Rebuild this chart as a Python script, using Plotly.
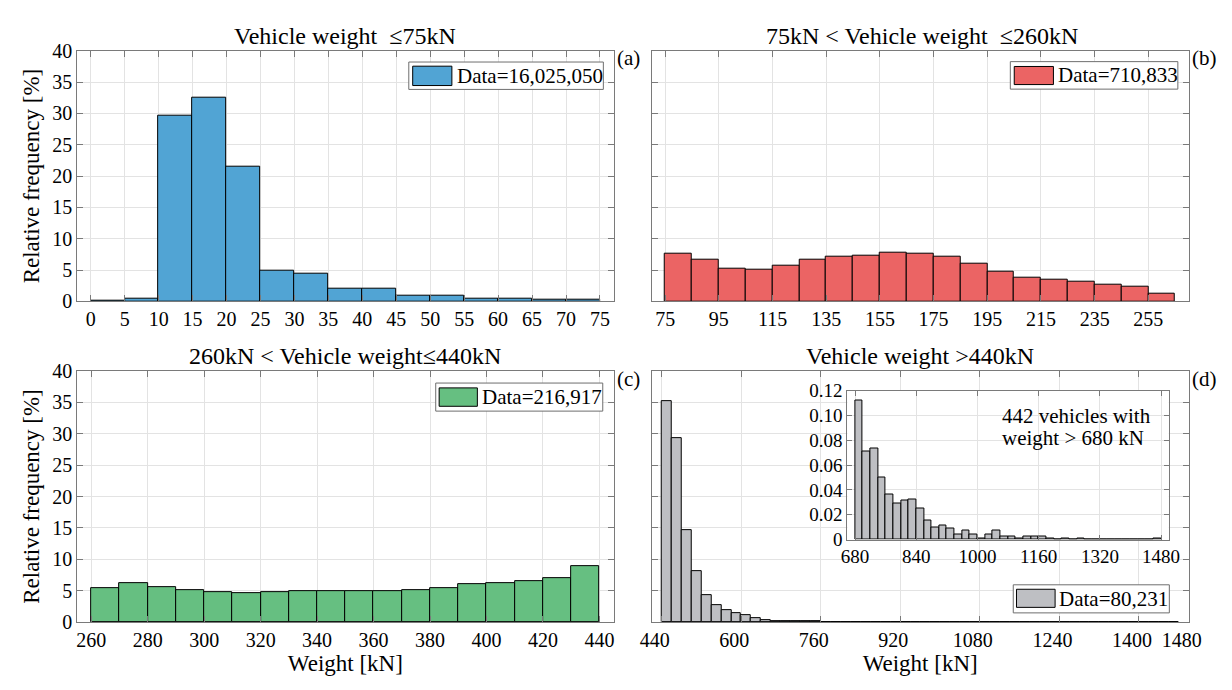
import plotly.graph_objects as go

W, H = 1232, 690
FONT = "Liberation Serif"
AXIS_COLOR = "#7a7a7a"
GRID_COLOR = "#e3e3e3"

# ---- histogram data: left bin edges [kN] and relative frequency [%] ----
a_edges = list(range(0, 75, 5))
a_freq = [0.10, 0.46, 29.6, 32.5, 21.5, 4.83, 4.42, 2.10, 2.10, 0.87, 0.87,
          0.41, 0.41, 0.26, 0.26]

b_edges = list(range(75, 265, 10))
b_freq = [7.60, 6.70, 5.20, 5.04, 5.76, 6.58, 7.10, 7.25, 7.76, 7.56, 7.10,
          6.07, 4.78, 3.86, 3.44, 3.08, 2.62, 2.31, 1.29]

c_edges = list(range(260, 440, 10))
c_freq = [5.35, 6.22, 5.60, 4.99, 4.68, 4.52, 4.68, 4.83, 4.83, 4.83, 4.94,
          5.14, 5.40, 6.02, 6.17, 6.43, 6.94, 8.90]

# vehicles above 440 kN, 20 kN bins
d_head_edges = list(range(440, 680, 20))
d_head_freq = [35.2, 29.3, 14.6, 8.04, 4.28, 2.68, 1.86, 1.39, 1.03, 0.57,
               0.26, 0.15]
tail_edges = list(range(680, 1480, 20))
tail_freq = [0.1122, 0.0710, 0.0735, 0.0499, 0.0361, 0.0287, 0.0312, 0.0324,
             0.0249, 0.0150, 0.0100, 0.0112, 0.0087, 0.0037, 0.0075, 0.0037,
             0.0012, 0.0037, 0.0075, 0.0025, 0.0025, 0.0012, 0.0025, 0.0025,
             0.0025, 0.0012, 0.0, 0.0012, 0.0, 0.0012, 0.0, 0.0, 0.0, 0.0,
             0.0, 0.0, 0.0, 0.0, 0.0, 0.0012]
d_edges = d_head_edges + tail_edges
d_freq = d_head_freq + tail_freq

totals = ["16,025,050", "710,833", "216,917", "80,231"]
titles = ["Vehicle weight  \u226475kN",
          "75kN &lt; Vehicle weight  \u2264260kN",
          "260kN &lt; Vehicle weight\u2264440kN",
          "Vehicle weight &gt;440kN"]
colors = ["#51a4d4", "#eb6464", "#66bf81", "#bebfc3"]

a_ticks = list(range(0, 80, 5))
b_ticks = list(range(75, 275, 20))
c_ticks = list(range(260, 460, 20))
d_ticks = [440, 600, 760, 920, 1080, 1240, 1400, 1500]
d_ticktext = ["440", "600", "760", "920", "1080", "1240", "1400", "1480"]
inset_xticks = [680, 840, 1000, 1160, 1320, 1480]
inset_yticks = [0, 0.02, 0.04, 0.06, 0.08, 0.10, 0.12]
inset_yticktext = ["0", "0.02", "0.04", "0.06", "0.08", "0.10", "0.12"]
freq_ticks = list(range(0, 45, 5))


def px(x):
    return x / W


def py(y):
    return 1 - y / H


fig = go.Figure()


def add_hist(edges, freq, width, color, xa, ya):
    fig.add_trace(go.Bar(
        x=edges, y=freq, width=[width] * len(edges), offset=0,
        marker=dict(color=color, line=dict(color="black", width=1)),
        xaxis=xa, yaxis=ya, hoverinfo="x+y",
    ))


add_hist(a_edges, a_freq, 5, colors[0], "x", "y")
add_hist(b_edges, b_freq, 10, colors[1], "x2", "y2")
add_hist(c_edges, c_freq, 10, colors[2], "x3", "y3")
add_hist(d_edges, d_freq, 20, colors[3], "x4", "y4")
add_hist(tail_edges, tail_freq, 20, colors[3], "x5", "y5")


def ax(**kw):
    base = dict(showline=True, linecolor=AXIS_COLOR, linewidth=1,
                mirror="ticks", ticks="inside", ticklen=6,
                tickcolor=AXIS_COLOR, tickwidth=1, showgrid=True,
                gridcolor=GRID_COLOR, gridwidth=1, zeroline=False,
                tickfont=dict(family=FONT, size=20, color="black"))
    base.update(kw)
    return base


left_dom = [px(66.5), px(614)]
right_dom = [px(653), px(1201)]
top_dom = [py(300), py(41)]
bot_dom = [py(631), py(372)]
ytitle = dict(text="Relative frequency [%]",
              font=dict(family=FONT, size=23, color="black"), standoff=6)
xtitle = dict(text="Weight [kN]",
              font=dict(family=FONT, size=23, color="black"), standoff=4)

fig.update_layout(
    font=dict(family=FONT, color="black"),
    xaxis=ax(domain=left_dom, anchor="y", range=[-2, 77], tickvals=a_ticks),
    yaxis=ax(domain=top_dom, anchor="x", range=[0, 40], tickvals=freq_ticks,
             title=ytitle),
    xaxis2=ax(domain=right_dom, anchor="y2", range=[70, 270], tickvals=b_ticks),
    yaxis2=ax(domain=top_dom, anchor="x2", range=[0, 40], tickvals=freq_ticks,
              showticklabels=False),
    xaxis3=ax(domain=left_dom, anchor="y3", range=[255, 445], tickvals=c_ticks,
              title=xtitle),
    yaxis3=ax(domain=bot_dom, anchor="x3", range=[0, 40], tickvals=freq_ticks,
              title=ytitle),
    xaxis4=ax(domain=right_dom, anchor="y4", range=[420, 1500],
              tickvals=d_ticks, ticktext=d_ticktext, ticklabelshift=-7,
              title=xtitle),
    yaxis4=ax(domain=bot_dom, anchor="x4", range=[0, 40], tickvals=freq_ticks,
              showticklabels=False),
    xaxis5=ax(domain=[px(852.7), px(1180.7)], anchor="y5", range=[660, 1500],
              tickvals=inset_xticks, ticklen=5,
              tickfont=dict(family=FONT, size=19, color="black")),
    yaxis5=ax(domain=[py(546), py(392)], anchor="x5", range=[0, 0.12],
              tickvals=inset_yticks, ticktext=inset_yticktext, ticklen=5,
              tickfont=dict(family=FONT, size=19, color="black")),
    width=W, height=H, margin=dict(l=0, r=0, t=0, b=0),
    paper_bgcolor="white", plot_bgcolor="white", showlegend=False,
    bargap=0,
)

# white backdrop for the inset so the main grid does not show through
fig.add_shape(type="rect", xref="x5 domain", yref="y5 domain",
              x0=0, x1=1, y0=0, y1=1, fillcolor="white",
              line=dict(width=0), layer="below")

# subplot titles and panel letters
title_pos = [(340, 26), (929, 26), (340, 356.5), (927, 356.5)]
letter_pos = [(629, 49), (1217, 49), (629, 380), (1217, 380)]
for t, (tx, ty), letter, (lx, ly) in zip(titles, title_pos, "abcd", letter_pos):
    fig.add_annotation(text=t, x=px(tx), y=py(ty), xref="paper", yref="paper",
                       showarrow=False, xanchor="center", yanchor="middle",
                       font=dict(family=FONT, size=24, color="black"))
    fig.add_annotation(text=f"({letter})", x=px(lx), y=py(ly), xref="paper",
                       yref="paper", showarrow=False, xanchor="center",
                       yanchor="middle",
                       font=dict(family=FONT, size=21, color="black"))

# legend boxes: (box l, t, r, b), (patch l, t, r, b), text x
legends = [
    ((405, 52.7, 603.6, 81), (409, 57, 449, 77), 452),
    ((1019, 52.3, 1190, 80.7), (1023, 57.3, 1063, 76), 1066),
    ((432.5, 384.3, 603, 413.3), (436, 389.3, 475, 408.3), 478),
    ((1022, 592.7, 1181.3, 621.7), (1025.3, 597.3, 1064.7, 616), 1067),
]
for (box, patch, tx), color, total in zip(legends, colors, totals):
    fig.add_shape(type="rect", xref="paper", yref="paper",
                  x0=px(box[0]), x1=px(box[2]), y0=py(box[3]), y1=py(box[1]),
                  fillcolor="white", line=dict(color="#6e6e6e", width=1),
                  layer="above")
    fig.add_shape(type="rect", xref="paper", yref="paper",
                  x0=px(patch[0]), x1=px(patch[2]), y0=py(patch[3]),
                  y1=py(patch[1]), fillcolor=color,
                  line=dict(color="black", width=1), layer="above")
    fig.add_annotation(text=f"Data={total}", x=px(tx),
                       y=py((box[1] + box[3]) / 2), xref="paper", yref="paper",
                       showarrow=False, xanchor="left", yanchor="middle",
                       font=dict(family=FONT, size=21, color="black"))

# inset note
for line, ly in [("442 vehicles with", 418), ("weight &gt; 680 kN", 441)]:
    fig.add_annotation(text=line, x=px(1008), y=py(ly), xref="paper",
                       yref="paper", showarrow=False, xanchor="left",
                       yanchor="middle",
                       font=dict(family=FONT, size=21, color="black"))

fig.write_html("out.html")
